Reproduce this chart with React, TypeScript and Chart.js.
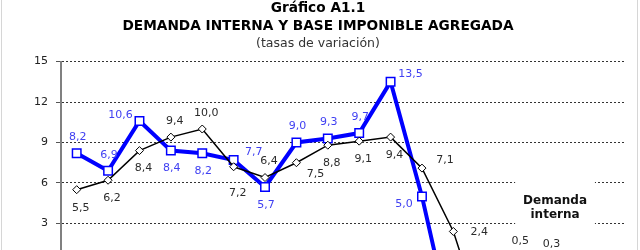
import React, { useEffect, useRef } from 'react';
import { Chart, registerables } from 'chart.js';

Chart.register(...registerables);

// ---- data ----
const years = ['1996', '1997', '1998', '1999', '2000', '2001', '2002', '2003', '2004', '2005', '2006', '2007', '2008', '2009', '2010', '2011', '2012', '2013'];
const demandaInterna = [5.5, 6.2, 8.4, 9.4, 10.0, 7.2, 6.4, 7.5, 8.8, 9.1, 9.4, 7.1, 2.4, -4.8, 0.5, 0.3, -1.4, -3.5];
const baseImponible = [8.2, 6.9, 10.6, 8.4, 8.2, 7.7, 5.7, 9.0, 9.3, 9.7, 13.5, 5.0, -5.3, -12.4, -1.0, -2.1, -5.8, -6.5];
const yMin = -15;
const yMax = 15;
const yStep = 3;
const titleLines = ['Gráfico A1.1', 'DEMANDA INTERNA Y BASE IMPONIBLE AGREGADA'];
const subtitleText = '(tasas de variación)';
const annotationLines = ['Demanda', 'interna'];

// ---- label placement (style) ----
const ALIGN: Record<string, [number, number]> = {
  t: [0, -16],
  b: [0, 18],
  bb: [0, 26],
  l: [-21, -4],
  r: [22, 1],
  tr: [19, -8],
  br: [15, 11],
  bl: [-19, 8],
  tl: [-20, -6],
};
const blueAlign = ['t', 't', 'tl', 'b', 'b', 'tr', 'b', 't', 't', 't', 'tr', 'bl', 'b', 'b', 'b', 'b', 'b', 'b'];
const blackAlign = ['b', 'b', 'b', 't', 't', 'bb', 't', 'br', 'b', 'b', 'b', 'tr', 'r', 'b', 't', 't', 't', 't'];

const FONT = 'DejaVu Sans';
const fmt = (v: number) => v.toFixed(1).replace('.', ',');

const decorPlugin = {
  id: 'decor',
  beforeDraw(chart: any) {
    const { ctx, width, height } = chart;
    ctx.save();
    ctx.fillStyle = '#ffffff';
    ctx.fillRect(0, 0, width, height);
    ctx.fillStyle = '#d6d6d6';
    ctx.fillRect(1, 0, 1, height);
    ctx.fillRect(637, 0, 1, height);
    ctx.restore();
  },
  beforeDatasetsDraw(chart: any) {
    const { ctx } = chart;
    const xs = chart.scales.x;
    const ys = chart.scales.y;
    const x0 = xs.getPixelForValue(14) - 1;
    const x1 = xs.getPixelForValue(16) + 16;
    const y0 = ys.getPixelForValue(6.5);
    const y1 = ys.getPixelForValue(2.6);
    ctx.save();
    ctx.fillStyle = '#ffffff';
    ctx.fillRect(x0, y0, x1 - x0, y1 - y0);
    ctx.fillStyle = '#111';
    ctx.font = `bold 12px "${FONT}"`;
    ctx.textAlign = 'center';
    ctx.textBaseline = 'middle';
    const cx = xs.getPixelForValue(15) + 7.5;
    ctx.fillText(annotationLines[0], cx, ys.getPixelForValue(4.65));
    ctx.fillText(annotationLines[1], cx, ys.getPixelForValue(3.65));
    ctx.restore();
  },
};

const labelPlugin = {
  id: 'valueLabels',
  afterDatasetsDraw(chart: any) {
    const { ctx } = chart;
    ctx.save();
    ctx.font = `11px "${FONT}"`;
    ctx.textAlign = 'center';
    ctx.textBaseline = 'middle';
    chart.data.datasets.forEach((ds: any, di: number) => {
      const meta = chart.getDatasetMeta(di);
      meta.data.forEach((pt: any, i: number) => {
        const v = ds.data[i];
        if (v === null || v === undefined) return;
        const [dx, dy] = ALIGN[ds.labelAlign[i]];
        ctx.fillStyle = ds.labelColor;
        ctx.fillText(fmt(v), pt.x + dx + ds.labelShift, pt.y + dy);
      });
    });
    ctx.restore();
  },
};

export default function App() {
  const ref = useRef<HTMLCanvasElement | null>(null);

  useEffect(() => {
    if (!ref.current) return;
    const chart = new Chart(ref.current, {
      type: 'line',
      data: {
        labels: years,
        datasets: [
          {
            label: 'Demanda interna',
            data: demandaInterna,
            order: 0,
            borderColor: '#000000',
            borderWidth: 1.5,
            pointStyle: 'rectRot',
            pointRadius: 4,
            pointBackgroundColor: '#ffffff',
            pointBorderColor: '#000000',
            pointBorderWidth: 1,
            tension: 0,
            labelAlign: blackAlign,
            labelColor: '#2b2b2b',
            labelShift: 4,
          } as any,
          {
            label: 'Base imponible agregada',
            data: baseImponible,
            order: 1,
            borderColor: '#0000ff',
            borderWidth: 4,
            pointStyle: 'rect',
            pointRadius: 6,
            pointBackgroundColor: '#ffffff',
            pointBorderColor: '#0000ff',
            pointBorderWidth: 1.5,
            tension: 0,
            labelAlign: blueAlign,
            labelColor: '#4040f2',
            labelShift: 1,
          } as any,
        ],
      },
      options: {
        responsive: false,
        devicePixelRatio: 1,
        animation: false,
        layout: { padding: { left: 0, right: 4, top: 0, bottom: 4 } },
        plugins: {
          legend: { display: false },
          tooltip: { enabled: false },
          title: {
            display: true,
            text: titleLines,
            color: '#000',
            font: { family: FONT, size: 13.7, weight: 'bold', lineHeight: 1.3 },
            padding: { top: 0, bottom: 0 },
          },
          subtitle: {
            display: true,
            text: subtitleText,
            color: '#333',
            font: { family: FONT, size: 12.5, lineHeight: 1.2 },
            padding: { top: 1, bottom: 10 },
          },
        },
        scales: {
          x: {
            type: 'category',
            offset: true,
            grid: { display: false },
            border: { display: true, color: '#808080', width: 1 },
            ticks: { font: { family: FONT, size: 11 }, color: '#222' },
            afterFit: (s: any) => { s.height = 30; },
          },
          y: {
            position: 'left',
            min: yMin,
            max: yMax,
            ticks: {
              stepSize: yStep,
              padding: 8,
              font: { family: FONT, size: 11 },
              color: '#222',
            },
            grid: {
              color: '#333',
              lineWidth: 1,
              drawTicks: true,
              tickLength: 5,
              tickColor: '#555',
              tickWidth: 1,
              tickBorderDash: [],
            },
            border: { display: true, color: '#808080', width: 2, dash: [2, 2] },
            afterFit: (s: any) => { s.width = 61; },
          },
          y2: {
            position: 'right',
            display: true,
            min: yMin,
            max: yMax,
            grid: { display: false, drawTicks: false },
            border: { display: false },
            ticks: { display: false },
            afterFit: (s: any) => { s.width = 10; },
          },
        },
      } as any,
      plugins: [decorPlugin, labelPlugin],
    });
    return () => chart.destroy();
  }, []);

  return (
    <div style={{ position: 'absolute', left: 0, top: 0, width: 640, height: 500 }}>
      <canvas ref={ref} width={640} height={500} style={{ display: 'block' }} />
    </div>
  );
}
